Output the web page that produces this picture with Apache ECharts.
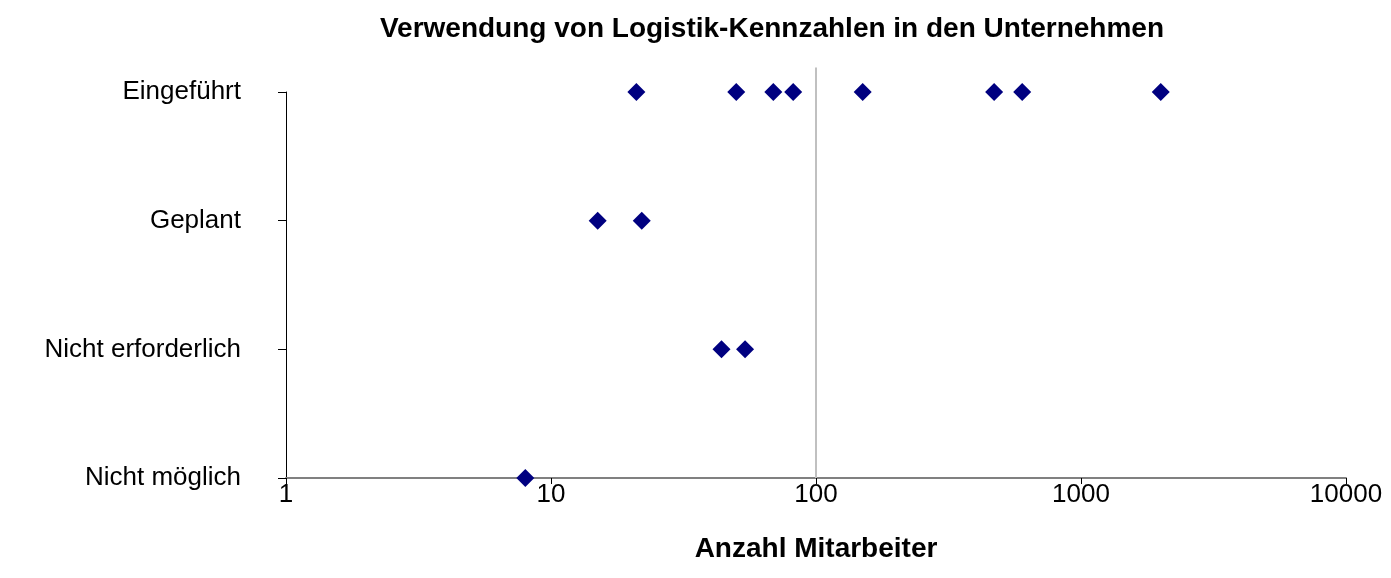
<!DOCTYPE html>
<html>
<head>
<meta charset="utf-8">
<script src="https://cdn.jsdelivr.net/npm/echarts@6/dist/echarts.min.js"></script>
<style>
  html, body { margin: 0; padding: 0; background: #fff; }
  #chart { width: 1391px; height: 578px; }
</style>
</head>
<body>
<div id="chart"></div>
<script>
var categories = ['Nicht möglich', 'Nicht erforderlich', 'Geplant', 'Eingeführt'];
var eingefuehrt = [21, 50, 69, 82, 150, 470, 600, 2000];
var geplant = [15, 22];
var nichtErforderlich = [44, 54];
var nichtMoeglich = [8];
var xTicks = [1, 10, 100, 1000, 10000];
var refLine = 100;

function toPoints(values, level) {
    return values.map(function (v) { return [v, level]; });
}

var chart = echarts.init(document.getElementById('chart'));

var font = '"Liberation Sans", Arial, sans-serif';

option = {
    animation: false,
    title: {
        text: 'Verwendung von Logistik-Kennzahlen in den Unternehmen',
        left: 767,
        textAlign: 'center',
        top: 10,
        textStyle: {
            fontFamily: font,
            fontSize: 28,
            fontWeight: 'bold',
            color: '#000'
        }
    },
    grid: {
        left: 286,
        right: 45,
        top: 92,
        bottom: 100
    },
    xAxis: {
        type: 'log',
        logBase: 10,
        min: xTicks[0],
        max: xTicks[xTicks.length - 1],
        name: 'Anzahl Mitarbeiter',
        nameLocation: 'middle',
        nameGap: 57,
        nameTextStyle: {
            fontFamily: font,
            fontSize: 28,
            fontWeight: 'bold',
            color: '#000'
        },
        axisLine: {
            lineStyle: { color: '#808080', width: 2 }
        },
        axisTick: {
            length: 6,
            lineStyle: { color: '#000', width: 1 }
        },
        minorTick: { show: false },
        splitLine: { show: false },
        axisLabel: {
            margin: 4,
            fontFamily: font,
            fontSize: 26,
            color: '#000',
            formatter: function (v) { return String(Math.round(v)); }
        }
    },
    yAxis: {
        type: 'value',
        min: 1,
        max: 4,
        interval: 1,
        axisLine: {
            show: true,
            lineStyle: { color: '#000', width: 1 }
        },
        axisTick: {
            show: true,
            length: 8,
            lineStyle: { color: '#000' }
        },
        splitLine: { show: false },
        axisLabel: {
            margin: 45,
            fontFamily: font,
            fontSize: 26,
            color: '#000',
            formatter: function (v) { return categories[v - 1] || ''; }
        }
    },
    series: [
        {
            name: 'Referenz',
            type: 'line',
            clip: false,
            symbol: 'none',
            silent: true,
            z: 1,
            lineStyle: { color: '#c0c0c0', width: 2 },
            data: [[refLine, 1], [refLine, 4.19]]
        },
        {
            type: 'scatter',
            symbol: 'diamond',
            symbolSize: 18,
            z: 3,
            itemStyle: { color: '#000080', opacity: 1 },
            data: toPoints(eingefuehrt, 4)
                .concat(toPoints(geplant, 3))
                .concat(toPoints(nichtErforderlich, 2))
                .concat(toPoints(nichtMoeglich, 1))
        }
    ]
};

chart.setOption(option);
</script>
</body>
</html>
